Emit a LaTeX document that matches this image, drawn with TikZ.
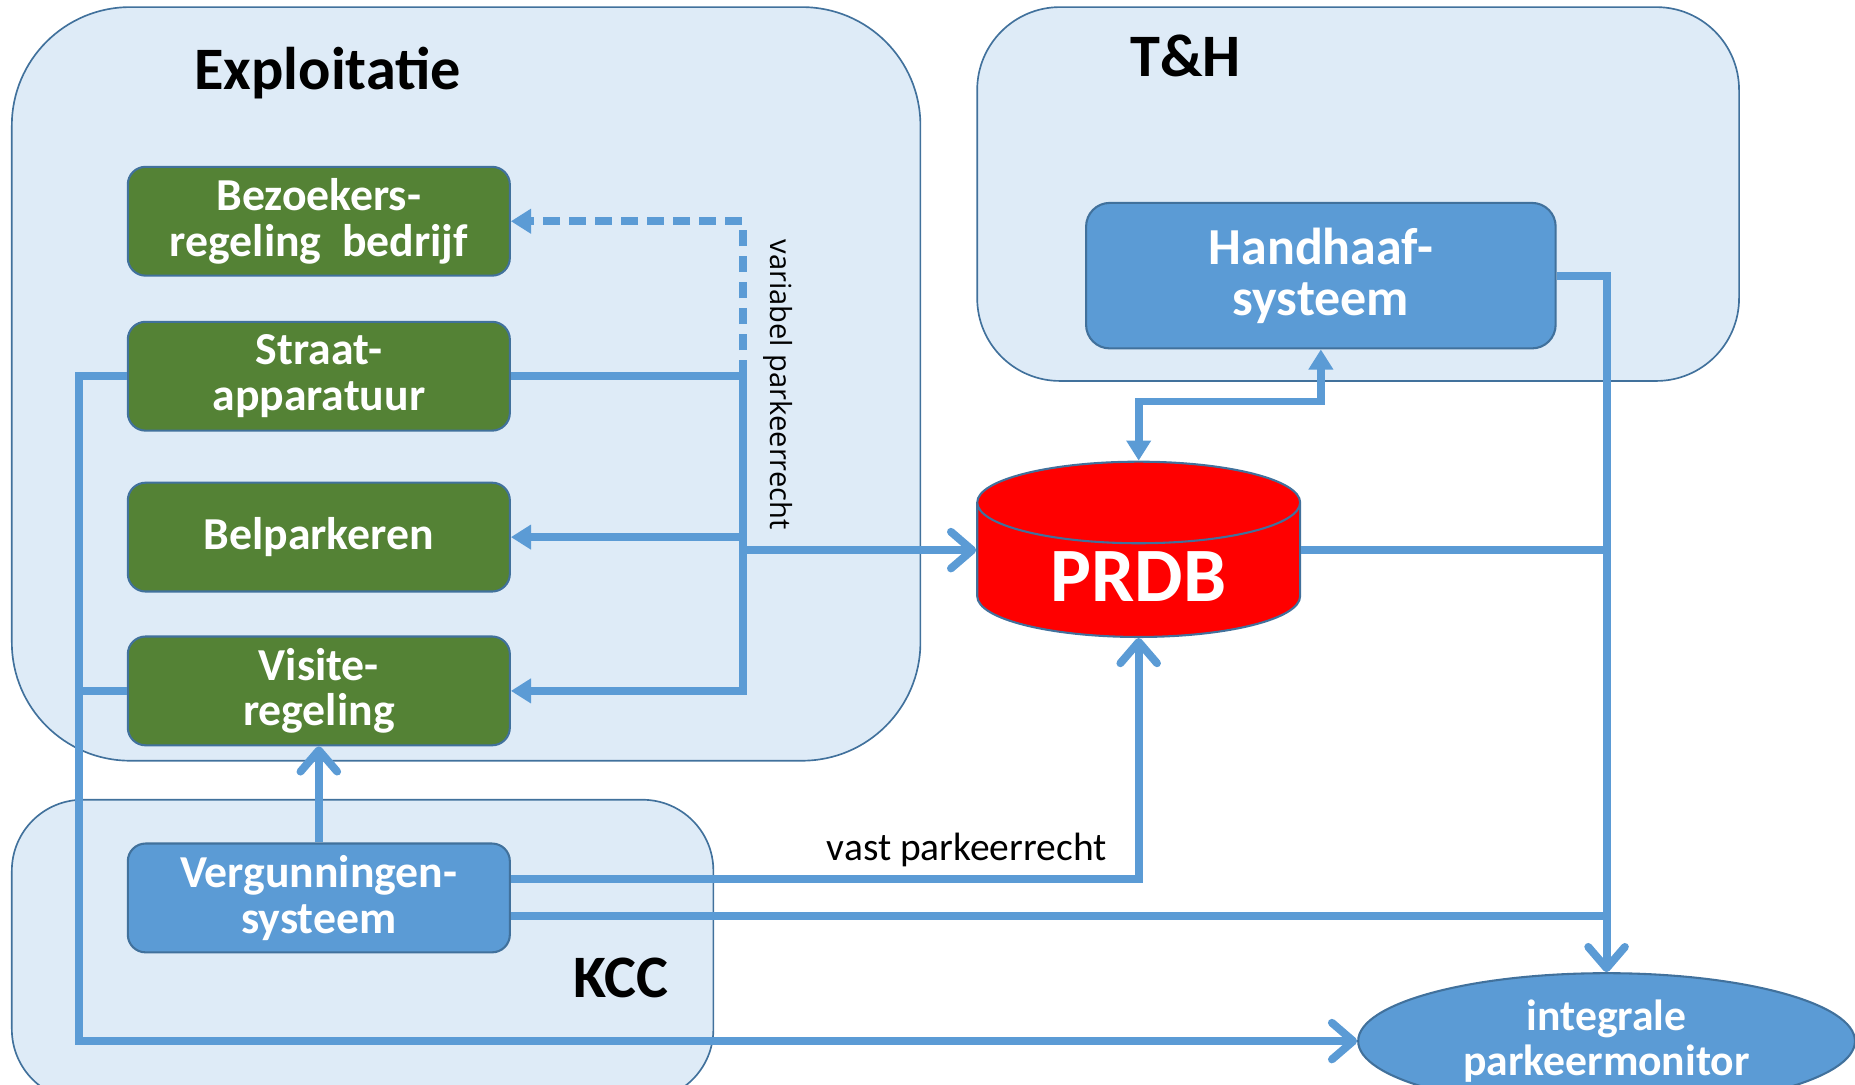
\documentclass[tikz,border=0pt]{standalone}
\usepackage{fontspec}
\setmainfont{Carlito}
\newfontfamily\labelfont{Open Sans}
\usetikzlibrary{positioning}
\usetikzlibrary{shapes}
\usetikzlibrary{arrows.meta}

\definecolor{groupfill}{HTML}{DEEBF7}
\definecolor{groupline}{HTML}{41719C}
\definecolor{appgreen}{HTML}{548235}
\definecolor{appblue}{HTML}{5B9BD5}

\tikzset{
  group/.style={draw=groupline, fill=groupfill, line width=0.8pt},
  grouptitle/.style={font=\bfseries\fontsize{29}{30}\selectfont},
  app/.style={draw=groupline, line width=1pt, fill=appgreen, rounded corners=0.3cm,
    text=white, align=center, font=\bfseries\fontsize{22}{22}\selectfont,
    minimum width=6.46cm, minimum height=1.84cm},
  flow/.style={draw=appblue, line width=3.8pt},
  tri/.tip={Triangle[length=0.34cm, width=0.4cm]},
  barb/.tip={Straight Barb[length=0.36cm, width=0.62cm, round]},
}

\begin{document}
\begin{tikzpicture}[x=0.02cm, y=-0.02cm]
\useasboundingbox (0,0) rectangle (1568,917);
%groups
\draw[group, rounded corners=2cm] (10,6) rectangle (778,643);
\draw[group, rounded corners=1.4cm] (826,6) rectangle (1470,322);
\draw[group, rounded corners=1.2cm] (10,676) rectangle (603,930);
\node[grouptitle] (exptitle) at (277,62) {Exploitatie};
\node[grouptitle] (thtitle) at (1002,47) {T\&H};
\node[grouptitle] (kcctitle) at (525,827) {KCC};
%applications
\node[app] (bezoek) at (269.5,187) {Bezoekers-\\regeling~ bedrijf};
\node[app] (straat) at (269.5,318) {Straat-\\apparatuur};
\node[app] (belpark) at (269.5,454) {Belparkeren};
\node[app] (visite) at (269.5,584) {Visite-\\regeling};
\node[app, fill=appblue] (vergun) at (269.5,759) {Vergunningen-\\systeem};
\node[app, fill=appblue, rounded corners=0.4cm, minimum width=7.94cm, minimum height=2.46cm,
  font=\bfseries\fontsize{25}{24.5}\selectfont] (handhaaf) at (1116.5,233) {Handhaaf-\\systeem};
%database and monitor
\node[cylinder, shape border rotate=90, aspect=0.43, draw=groupline, line width=1pt, fill=red,
  text=white, font=\bfseries\fontsize{37}{40}\selectfont,
  minimum width=5.46cm, minimum height=2.86cm] (prdb) at (962.5,487) {PRDB};
\coordinate (prdbin) at ([yshift=0.44cm]prdb.west);
\coordinate (prdbout) at ([yshift=0.44cm]prdb.east);
\node[ellipse, draw=groupline, line width=1pt, fill=appblue, text=white, align=center,
  font=\bfseries\fontsize{21}{21.5}\selectfont,
  minimum width=8.4cm, minimum height=2.12cm] (monitor) at (1358,880) {integrale\\parkeermonitor};
%variabel parkeerrecht
\coordinate (junc) at (628,318);
\draw[flow, dash pattern=on 0.28cm off 0.16cm, -tri] (junc) |- (bezoek.east);
\draw[flow, -tri] (straat.east) -- (junc) |- (visite.east);
\draw[flow, -tri] (junc |- belpark.east) -- (belpark.east);
\draw[flow, -barb] (junc |- prdbin) -- (prdbin);
\node[rotate=-90, font=\labelfont\fontsize{14}{16}\selectfont] (varlabel) at (658,325) {variabel parkeerrecht};
%left loop to monitor
\draw[flow, -barb] (straat.west) -- ++(-40,0) |- (monitor.west);
\draw[flow] (visite.west) -- ++(-40,0);
%vergunningen
\draw[flow, -barb] (vergun.north) -- (visite.south);
\draw[flow, -barb] ([yshift=0.32cm]vergun.east) -| (prdb.south)
  node[pos=0.363, above, inner sep=4pt, font=\fontsize{19}{20}\selectfont] (vastlabel) {vast parkeerrecht};
\draw[flow] ([yshift=-0.3cm]vergun.east) -- ([yshift=-0.3cm]vergun.east -| monitor.north);
%handhaaf and monitor feed
\draw[flow, tri-tri] (prdb.north) -- ++(0,-50) -| (handhaaf.south);
\draw[flow, -barb] (handhaaf.east) -| (monitor.north);
\draw[flow] (prdbout) -- (prdbout -| monitor.north);
\end{tikzpicture}
\end{document}
